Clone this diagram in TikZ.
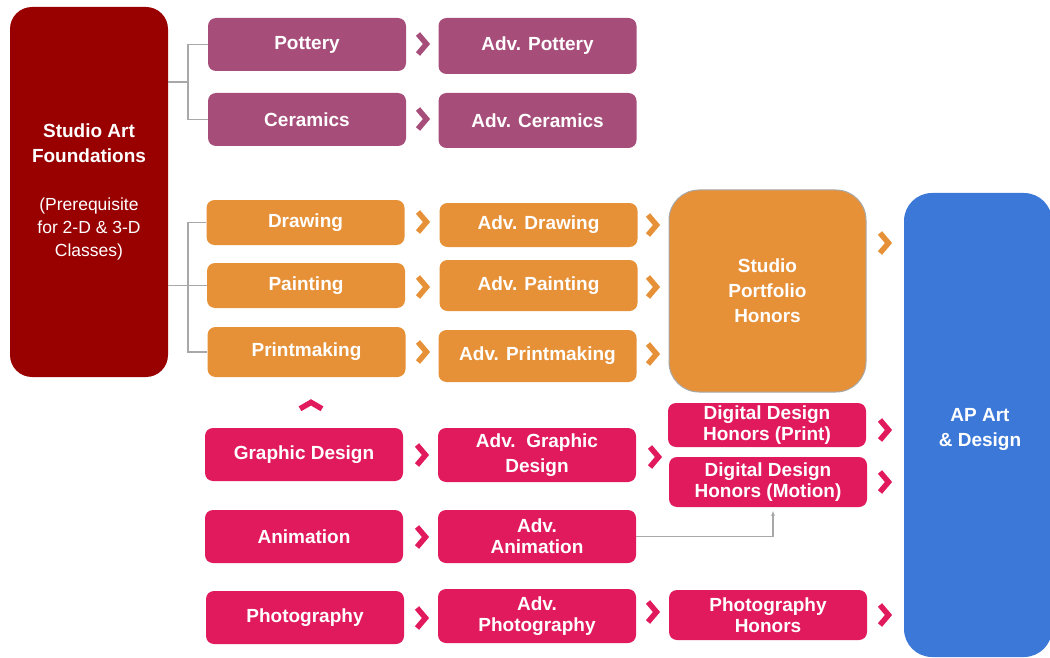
\documentclass[tikz,border=0pt]{standalone}
\usepackage{fontspec}
\setmainfont{Liberation Sans}
\usetikzlibrary{calc,arrows.meta}

\definecolor{redc}{HTML}{990000}
\definecolor{potc}{HTML}{A64D79}
\definecolor{orac}{HTML}{E69138}
\definecolor{digc}{HTML}{E01A5C}
\definecolor{apc}{HTML}{3C78D8}
\definecolor{linec}{HTML}{A8A8A8}
\newcommand{\prefont}{\mdseries\fontsize{17.5}{22}\selectfont}

\begin{document}
\begin{tikzpicture}[x=1pt, y=-1pt]
    \tikzstyle{every node} = [align=center, text=white, font=\bfseries\fontsize{19}{21}\selectfont]
    \tikzstyle{box} = [rectangle, rounded corners=8pt, minimum width=198pt, minimum height=53pt, inner sep=1pt]
    \tikzstyle{big} = [box, font=\bfseries\fontsize{19}{25}\selectfont]
    \tikzstyle{pot} = [box, fill=potc]
    \tikzstyle{ora} = [box, fill=orac]
    \tikzstyle{dig} = [box, fill=digc]
    \tikzstyle{link} = [draw=linec, line width=1.5pt]
    \tikzset{chev/.pic={\draw[line width=5.5pt, line join=miter] (-5,-10) -- (3.5,0) -- (-5,10);}}

    \useasboundingbox (0,0) rectangle (1050,658);

    \node [big, fill=redc, minimum width=158pt, minimum height=370pt, rounded corners=22pt] (found) at (89,192)
        {Studio Art\\Foundations\\[23pt]{\prefont (Prerequisite}\\[-2pt]{\prefont for 2-D \& 3-D}\\[-2pt]{\prefont Classes)}};

    % 3-D
    \node [pot] (pot) at (307,44.5) {Pottery};
    \node [pot, minimum height=56pt] (apot) at (537.5,46) {Adv. Pottery};
    \node [pot] (cer) at (307,119.5) {Ceramics};
    \node [pot, minimum height=55pt] (acer) at (537.5,120.5) {Adv. Ceramics};

    % 2-D
    \node [ora, minimum height=45pt] (drw) at (305.5,222.5) {Drawing};
    \node [ora, minimum height=44pt] (adrw) at (538.5,225) {Adv. Drawing};
    \node [ora, minimum height=45pt] (pnt) at (306,285.5) {Painting};
    \node [ora, minimum height=51pt] (apnt) at (538.5,285.5) {Adv. Painting};
    \node [ora, minimum height=50pt] (prt) at (306.5,352) {Printmaking};
    \node [ora, minimum height=52pt] (aprt) at (537.5,356) {Adv. Printmaking};
    \node [big, fill=orac, draw=linec, line width=1pt, minimum width=197pt, minimum height=202pt, rounded corners=30pt] (port) at (767.5,291)
        {Studio\\Portfolio\\Honors};

    % digital
    \node [dig] (gd) at (304,454.5) {Graphic Design};
    \node [dig, minimum height=54pt, font=\bfseries\fontsize{19}{25}\selectfont] (agd) at (537,455) {Adv.\ \ Graphic\\Design};
    \node [dig, minimum height=44pt] (ddp) at (767,425) {Digital Design\\Honors (Print)};
    \node [dig, minimum height=50pt] (ddm) at (768,482) {Digital Design\\Honors (Motion)};
    \node [dig] (ani) at (304,536.5) {Animation};
    \node [dig] (aani) at (537,536.5) {Adv.\\Animation};
    \node [dig] (pho) at (305,617.5) {Photography};
    \node [dig, minimum height=54pt] (apho) at (537,616) {Adv.\\Photography};
    \node [dig, minimum height=50pt] (phoh) at (768,615) {Photography\\Honors};

    \node [box, fill=apc, minimum width=148pt, minimum height=464pt, rounded corners=28pt] (ap) at (978,425) {};
    \node [font=\bfseries\fontsize{19}{25}\selectfont] (aptxt) at (980,429) {AP Art\\\& Design};

    % prerequisite lines
    \coordinate (j1) at (188,82);
    \coordinate (j2) at (188,285.5);
    \draw [link] (found.east |- j1) -- (j1);
    \draw [link] (pot.west) -| (j1) |- (cer.west);
    \draw [link] (found.east |- j2) -- (j2);
    \draw [link] (drw.west) -| (j2) |- (prt.west);
    \draw [link] (j2) -- (pnt.west);
    \draw [link, -{Stealth[length=5pt, width=4pt]}, shorten >=4pt] (aani.east) -| ([xshift=5pt]ddm.south);

    % chevrons
    \foreach \x/\y/\c in {423/44/potc, 423/119/potc,
        423/222/orac, 423/287/orac, 423/352/orac,
        653/225/orac, 653/287/orac, 653/354/orac, 885/243/orac,
        422/455/digc, 655/457/digc, 885/430/digc, 885/482/digc,
        422/537/digc, 422/618/digc, 653/612/digc, 885/615/digc}
        \pic [color=\c] at (\x,\y) {chev};
    \pic [color=digc, rotate=90, xscale=0.75, yscale=1.1] at (311,405) {chev};
\end{tikzpicture}
\end{document}
